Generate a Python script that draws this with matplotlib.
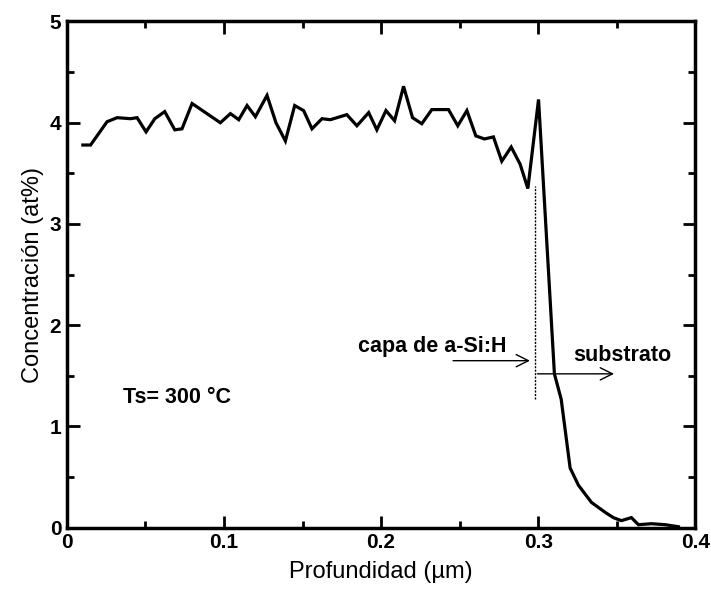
import matplotlib
matplotlib.use("Agg")
import matplotlib.pyplot as plt
from matplotlib.ticker import MultipleLocator

plt.rcParams['font.family'] = ['Liberation Sans', 'DejaVu Sans']

# perfil de concentración de H
profundidad = [0.0102, 0.0151, 0.0256, 0.0320, 0.0405, 0.0447, 0.0504, 0.0560,
               0.0623, 0.0687, 0.0733, 0.0797, 0.0977, 0.1041, 0.1094, 0.1147,
               0.1200, 0.1274, 0.1331, 0.1391, 0.1450, 0.1507, 0.1560, 0.1624,
               0.1677, 0.1782, 0.1846, 0.1921, 0.1973, 0.2031, 0.2086, 0.2143,
               0.2200, 0.2259, 0.2323, 0.2429, 0.2488, 0.2546, 0.2603, 0.2658,
               0.2715, 0.2768, 0.2828, 0.2885, 0.2934, 0.3002, 0.3103, 0.3146,
               0.3203, 0.3256, 0.3339, 0.3428, 0.3478, 0.3529, 0.3593, 0.3638,
               0.3720, 0.3809, 0.3892]
concentracion = [3.78, 3.78, 4.01, 4.05, 4.04, 4.05, 3.91, 4.04,
                 4.11, 3.93, 3.94, 4.19, 4.00, 4.09, 4.03, 4.17,
                 4.06, 4.27, 4.00, 3.82, 4.17, 4.12, 3.94, 4.04,
                 4.03, 4.08, 3.97, 4.10, 3.93, 4.12, 4.02, 4.36,
                 4.05, 3.99, 4.13, 4.13, 3.97, 4.12, 3.87, 3.84,
                 3.86, 3.62, 3.76, 3.59, 3.35, 4.23, 1.52, 1.27,
                 0.59, 0.42, 0.25, 0.15, 0.10, 0.07, 0.10, 0.03,
                 0.04, 0.03, 0.01]

interfaz_x = 0.2978
interfaz_y = [1.27, 3.38]

fig = plt.figure(figsize=(7.11, 5.97), dpi=100)
ax = fig.add_axes([0.094, 0.116, 0.884, 0.848])

ax.plot(profundidad, concentracion, color="black", lw=2.3, solid_joinstyle="miter")

# línea de la interfaz
ax.plot([interfaz_x, interfaz_x], interfaz_y, color="black", lw=1.0, ls=(0, (1.5, 1)))

# flechas
ax.annotate("", xy=(0.2965, 1.65), xytext=(0.244, 1.65),
            arrowprops=dict(arrowstyle="->", color="black", lw=1.0,
                            mutation_scale=22))
ax.annotate("", xy=(0.350, 1.52), xytext=(interfaz_x, 1.52),
            arrowprops=dict(arrowstyle="->", color="black", lw=1.0,
                            mutation_scale=22))

ax.text(0.1855, 1.79, "capa de a-Si:H", fontsize=15.5, fontweight="bold",
        va="center", ha="left")
ax.text(0.322, 1.70, "substrato", fontsize=15.5, fontweight="bold",
        va="center", ha="left")
ax.text(0.036, 1.29, "Ts= 300 °C", fontsize=15.5, fontweight="bold",
        va="center", ha="left")

ax.set_xlim(0, 0.4)
ax.set_ylim(0, 5)
ax.xaxis.set_major_locator(MultipleLocator(0.1))
ax.xaxis.set_minor_locator(MultipleLocator(0.05))
ax.yaxis.set_major_locator(MultipleLocator(1))
ax.yaxis.set_minor_locator(MultipleLocator(0.5))
ax.set_xticks([0, 0.1, 0.2, 0.3, 0.4])
ax.set_xticklabels(["0", "0.1", "0.2", "0.3", "0.4"])

ax.tick_params(which="both", direction="in", top=True, right=True, width=2)
ax.tick_params(which="major", length=9, labelsize=15, pad=4)
ax.tick_params(which="minor", length=5)
for lab in ax.get_xticklabels() + ax.get_yticklabels():
    lab.set_fontweight("bold")
for sp in ax.spines.values():
    sp.set_linewidth(2.5)

ax.set_xlabel("Profundidad (µm)", fontsize=17, labelpad=6)
ax.set_ylabel("Concentración (at%)", fontsize=17, labelpad=4)

fig.savefig("out.png", dpi=100)
